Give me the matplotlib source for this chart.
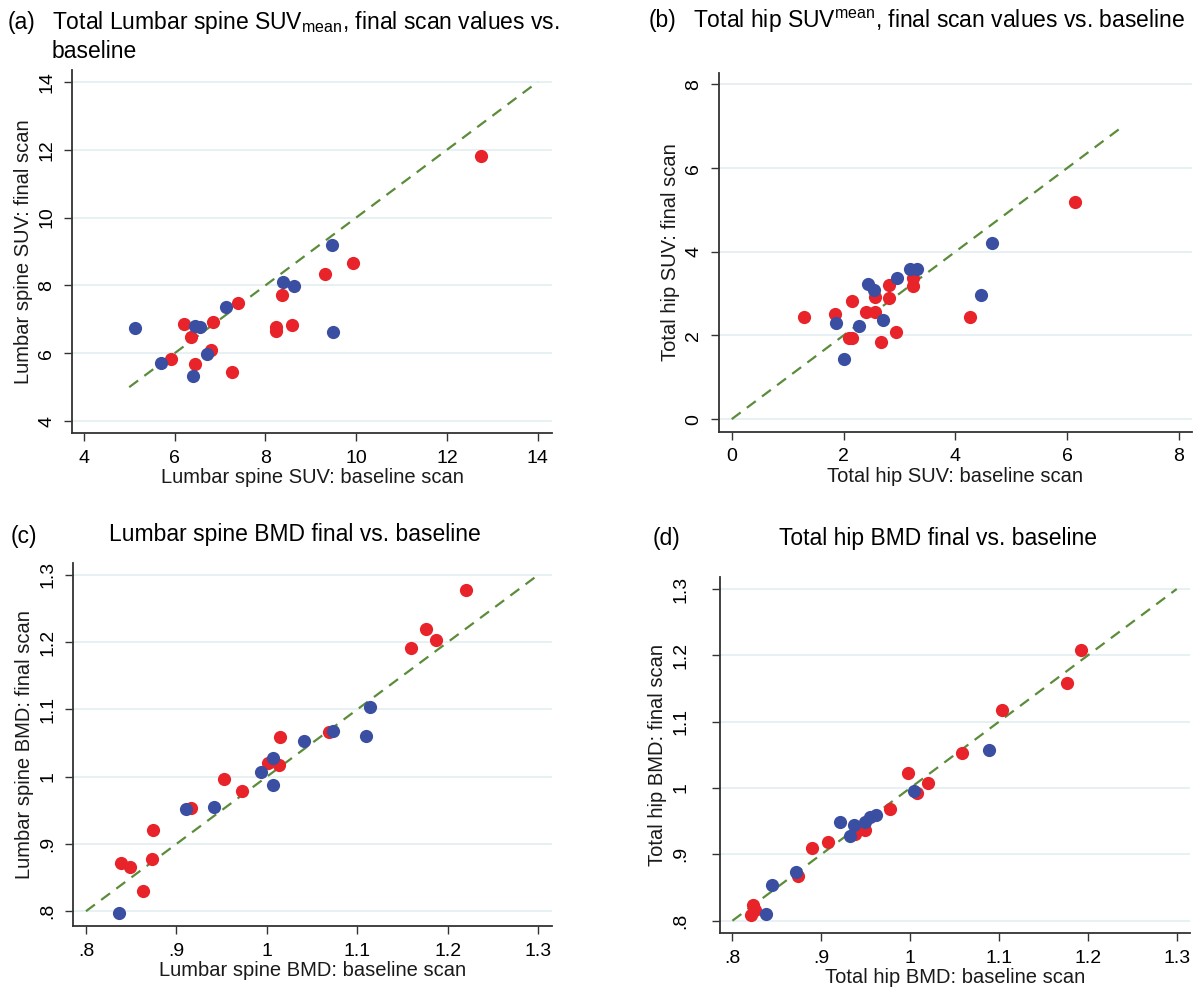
import matplotlib
matplotlib.use("Agg")
import matplotlib.pyplot as plt

plt.rcParams['font.family'] = ['Liberation Sans', 'DejaVu Sans']
plt.rcParams['mathtext.fontset'] = 'custom'
plt.rcParams['mathtext.rm'] = 'Liberation Sans'

RED = '#e8232a'
BLUE = '#3b4fa2'
GREEN = '#5b8c3a'
GRID = '#e3eff1'

# (a) lumbar spine SUV
a_red_x = [12.74, 9.93, 9.32, 8.37, 7.39, 8.23, 8.23, 8.59, 6.21, 6.85, 6.37, 6.80, 5.93, 6.44, 7.27]
a_red_y = [11.81, 8.67, 8.33, 7.73, 7.47, 6.77, 6.66, 6.82, 6.86, 6.91, 6.49, 6.11, 5.82, 5.68, 5.45]
a_blue_x = [9.47, 8.39, 8.63, 7.14, 5.13, 6.44, 6.55, 9.49, 6.71, 5.71, 6.41]
a_blue_y = [9.18, 8.09, 7.99, 7.35, 6.73, 6.81, 6.76, 6.63, 5.97, 5.70, 5.32]

# (b) total hip SUV
b_red_x = [6.15, 1.30, 1.84, 2.16, 2.10, 2.15, 2.41, 2.56, 2.56, 2.82, 2.82, 2.67, 2.94, 3.24, 3.24, 4.26]
b_red_y = [5.20, 2.45, 2.51, 2.82, 1.95, 1.94, 2.57, 2.57, 2.91, 3.20, 2.90, 1.84, 2.08, 3.38, 3.18, 2.44]
b_blue_x = [4.65, 4.46, 3.19, 3.31, 2.95, 2.44, 2.55, 2.70, 2.28, 1.86, 2.00]
b_blue_y = [4.20, 2.96, 3.58, 3.60, 3.38, 3.24, 3.08, 2.38, 2.22, 2.29, 1.43]

# (c) lumbar spine BMD
c_red_x = [1.220, 1.176, 1.187, 1.159, 1.069, 1.014, 1.001, 1.013, 0.953, 0.973, 0.916, 0.874, 0.873, 0.839, 0.849, 0.863]
c_red_y = [1.277, 1.220, 1.203, 1.191, 1.066, 1.059, 1.021, 1.017, 0.996, 0.979, 0.953, 0.920, 0.877, 0.872, 0.866, 0.830]
c_blue_x = [1.114, 1.110, 1.073, 1.041, 1.007, 0.993, 1.007, 0.941, 0.911, 0.837]
c_blue_y = [1.103, 1.061, 1.068, 1.053, 1.027, 1.007, 0.987, 0.955, 0.952, 0.797]

# (d) total hip BMD
d_red_x = [1.192, 1.177, 1.103, 1.058, 0.998, 1.020, 1.008, 0.977, 0.949, 0.938, 0.907, 0.890, 0.874, 0.823, 0.825, 0.821]
d_red_y = [1.208, 1.158, 1.117, 1.053, 1.023, 1.008, 0.993, 0.968, 0.937, 0.931, 0.918, 0.909, 0.868, 0.824, 0.816, 0.808]
d_blue_x = [1.089, 1.004, 0.962, 0.955, 0.949, 0.937, 0.932, 0.921, 0.872, 0.845, 0.838]
d_blue_y = [1.057, 0.996, 0.960, 0.957, 0.949, 0.944, 0.928, 0.949, 0.873, 0.854, 0.810]

suv_a_ticks = [4, 6, 8, 10, 12, 14]
suv_b_ticks = [0, 2, 4, 6, 8]
bmd_ticks = [0.8, 0.9, 1.0, 1.1, 1.2, 1.3]
bmd_labels = ['.8', '.9', '1', '1.1', '1.2', '1.3']


def panel(ax, rx, ry, bx, by, ref, xlim, ylim, ticks, labels,
          xlabel, ylabel, ypad=6):
    ax.set_xlim(*xlim)
    ax.set_ylim(*ylim)
    for t in ticks:
        ax.axhline(t, color=GRID, lw=1.2, zorder=0)
    ax.plot(ref, ref, ls=(0, (5, 3.5)), color=GREEN, lw=1.6, zorder=1)
    ax.plot(rx, ry, 'o', color=RED, ms=9.5, mec='none', zorder=2)
    ax.plot(bx, by, 'o', color=BLUE, ms=9.5, mec='none', zorder=3)
    ax.set_xticks(ticks)
    ax.set_xticklabels(labels)
    ax.set_yticks(ticks)
    ax.set_yticklabels(labels, rotation=90, va='center')
    ax.tick_params(direction='out', length=6, width=1, color='#333333',
                   labelsize=14)
    ax.tick_params(axis='x', pad=6)
    ax.tick_params(axis='y', pad=ypad)
    for s in ['top', 'right']:
        ax.spines[s].set_visible(False)
    for s in ['left', 'bottom']:
        ax.spines[s].set_color('#333333')
        ax.spines[s].set_linewidth(1.3)
    ax.set_xlabel(xlabel, fontsize=14.5, labelpad=1, color='#1a1a1a')
    ax.set_ylabel(ylabel, fontsize=14.5, labelpad=4, color='#1a1a1a')


fig = plt.figure(figsize=(11.96, 9.91), dpi=100)

ax_a = fig.add_axes([0.0602, 0.5631, 0.4013, 0.3663])
panel(ax_a, a_red_x, a_red_y, a_blue_x, a_blue_y, [5, 14], (3.74, 14.31), (3.65, 14.35),
      suv_a_ticks, [str(t) for t in suv_a_ticks],
      'Lumbar spine SUV: baseline scan', 'Lumbar spine SUV: final scan')

ax_b = fig.add_axes([0.6012, 0.5644, 0.3952, 0.3622])
panel(ax_b, b_red_x, b_red_y, b_blue_x, b_blue_y, [0, 7], (-0.227, 8.23), (-0.30, 8.28),
      suv_b_ticks, [str(t) for t in suv_b_ticks],
      'Total hip SUV: baseline scan', 'Total hip SUV: final scan')

ax_c = fig.add_axes([0.0613, 0.0656, 0.4000, 0.3666])
panel(ax_c, c_red_x, c_red_y, c_blue_x, c_blue_y, [0.8, 1.3], (0.786, 1.3148), (0.778, 1.318),
      bmd_ticks, bmd_labels,
      'Lumbar spine BMD: baseline scan', 'Lumbar spine BMD: final scan')

ax_d = fig.add_axes([0.6020, 0.0582, 0.3930, 0.3598])
panel(ax_d, d_red_x, d_red_y, d_blue_x, d_blue_y, [0.8, 1.3], (0.786, 1.315), (0.781, 1.3185),
      bmd_ticks, bmd_labels,
      'Total hip BMD: baseline scan', 'Total hip BMD: final scan', ypad=16)

# panel titles
fs_t = 16.5
W, H = 1196, 991
fig.text(8 / W, 1 - 23 / H, '(a)', fontsize=fs_t, va='center')
fig.text(52 / W, 1 - 23 / H, r'Total Lumbar spine SUV$_{\mathrm{mean}}$, final scan values vs.',
         fontsize=fs_t, va='center')
fig.text(52 / W, 1 - 52 / H, 'baseline', fontsize=fs_t, va='center')

fig.text(649 / W, 1 - 21 / H, '(b)', fontsize=fs_t, va='center')
fig.text(693 / W, 1 - 21 / H, r'Total hip SUV$^{\mathrm{mean}}$, final scan values vs. baseline',
         fontsize=fs_t, va='center')

fig.text(11 / W, 1 - 536 / H, '(c)', fontsize=fs_t, va='center')
fig.text(295 / W, 1 - 534 / H, 'Lumbar spine BMD final vs. baseline',
         fontsize=fs_t, va='center', ha='center')

fig.text(653 / W, 1 - 538 / H, '(d)', fontsize=fs_t, va='center')
fig.text(938 / W, 1 - 538 / H, 'Total hip BMD final vs. baseline',
         fontsize=fs_t, va='center', ha='center')

fig.savefig('out.png', dpi=100)
